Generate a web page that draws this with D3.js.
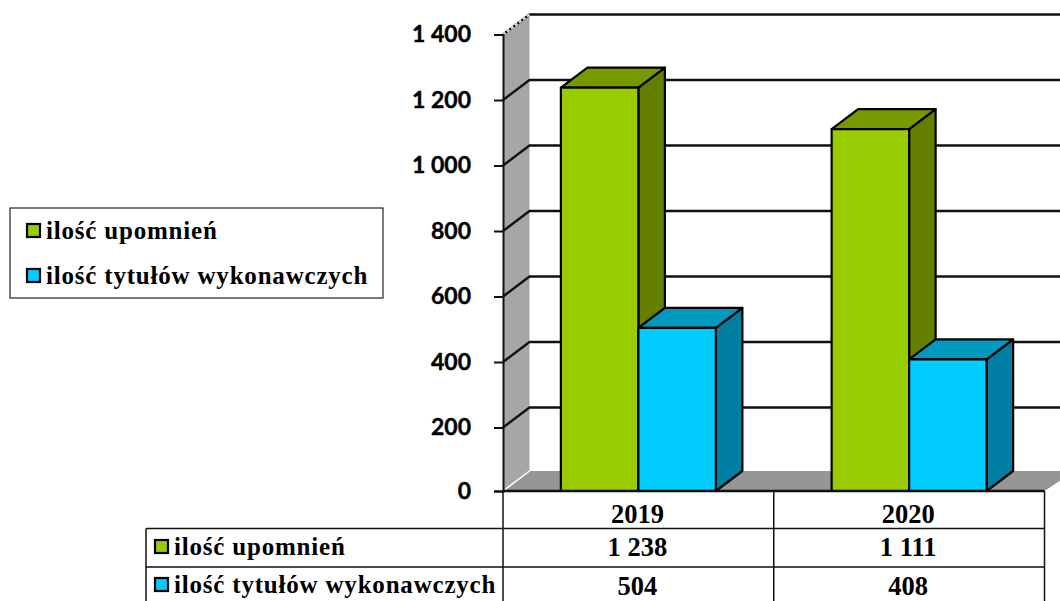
<!DOCTYPE html>
<html>
<head>
<meta charset="utf-8">
<script src="https://cdn.jsdelivr.net/npm/d3@7"></script>
<style>
  html, body { margin: 0; padding: 0; background: #fff; overflow: hidden; }
  svg { display: block; }
  .serif { font-family: "Liberation Serif", serif; font-weight: bold; fill: #000; }
</style>
</head>
<body>
<svg id="chart" width="1060" height="601"></svg>
<script>
const categories = ["2019", "2020"];
const seriesNames = ["ilość upomnień", "ilość tytułów wykonawczych"];
const upomnienia = [1238, 1111];
const tytuly = [504, 408];
const yTicks = [0, 200, 400, 600, 800, 1000, 1200, 1400];

const seriesValues = [upomnienia, tytuly];
const seriesColors = [
  { front: "#99cc00", top: "#769900", side: "#647f00" },
  { front: "#00ccff", top: "#0099c0", side: "#007fa2" }
];

const svg = d3.select("#chart");

// 3D offset of the chart box
const depthX = 26.5;
const depthY = -20;

const x0 = d3.scaleBand().domain(categories).range([503, 1044.5]);
const barWidth = 77.5;
const x1 = d3.scaleBand().domain([0, 1]).range([-barWidth, barWidth]);
// the source chart's floor sits a little above the regular tick spacing
const y = d3.scaleLinear().domain([0, 200, 1400]).range([491, 427.5, 34.5]);

const fmt = d3.formatLocale({ thousands: " ", grouping: [3], decimal: ",", currency: ["", ""] }).format(",d");

const poly = pts => pts.map(p => p.join(",")).join(" ");

// left wall and floor
svg.append("polygon")
  .attr("points", poly([[x0.range()[0], y(0)], [x0.range()[0] + depthX, y(0) + depthY], [x0.range()[0] + depthX, y(1400) + depthY], [x0.range()[0], y(1400)]]))
  .attr("fill", "#a6a6a6");
svg.append("polygon")
  .attr("points", poly([[x0.range()[0], y(0)], [x0.range()[0] + depthX, y(0) + depthY], [1075, y(0) + depthY], [x0.range()[1], y(0)]]))
  .attr("fill", "#969696");
svg.append("line")
  .attr("x1", x0.range()[0]).attr("x2", x0.range()[0] + depthX)
  .attr("y1", y(0)).attr("y2", y(0) + depthY)
  .attr("stroke", "#fff").attr("stroke-width", 1.5);

// gridlines
yTicks.filter(d => d > 0).forEach(d => {
  svg.append("polyline")
    .attr("points", poly([[x0.range()[0], y(d)], [x0.range()[0] + depthX, y(d) + depthY], [1060, y(d) + depthY]]))
    .attr("fill", "none")
    .attr("stroke", "#111")
    .attr("stroke-width", 2.3);
});
svg.append("line")
  .attr("x1", x0.range()[0]).attr("x2", x0.range()[0] + depthX)
  .attr("y1", y(1400)).attr("y2", y(1400) + depthY)
  .attr("stroke", "#ddd").attr("stroke-width", 2.3).attr("stroke-dasharray", "3 2");

// bars
categories.forEach((cat, i) => {
  const cx = x0(cat) + x0.bandwidth() / 2;
  seriesValues.forEach((vals, s) => {
    const left = cx + x1(s);
    const right = left + barWidth;
    const top = y(vals[i]);
    const bottom = y(0);
    const c = seriesColors[s];
    const g = svg.append("g")
      .attr("stroke", "#000")
      .attr("stroke-width", 2.2)
      .attr("stroke-linejoin", "round");
    g.append("polygon")
      .attr("points", poly([[right, top], [right + depthX, top + depthY], [right + depthX, bottom + depthY], [right, bottom]]))
      .attr("fill", c.side);
    g.append("polygon")
      .attr("points", poly([[left, top], [left + depthX, top + depthY], [right + depthX, top + depthY], [right, top]]))
      .attr("fill", c.top);
    g.append("rect")
      .attr("x", left).attr("y", top)
      .attr("width", barWidth).attr("height", bottom - top)
      .attr("fill", c.front);
  });
});

// value axis
const yAxis = d3.axisLeft(y).tickValues(yTicks).tickFormat(fmt).tickSize(9).tickPadding(23);
const axisG = svg.append("g")
  .attr("transform", `translate(${x0.range()[0]},0)`)
  .call(yAxis);
axisG.select(".domain").attr("stroke", "#111").attr("stroke-width", 2);
axisG.selectAll(".tick line").attr("stroke", "#111").attr("stroke-width", 2);
axisG.selectAll(".tick text")
  .attr("font-family", "Lato, sans-serif")
  .attr("font-weight", "bold")
  .attr("font-size", 23)
  .attr("fill", "#000")
  .attr("stroke", "#000")
  .attr("stroke-width", 0.4);

// data table under the chart
const tableLeft = 146;
const rowY = [491, 528.5, 567, 601];
const tableLines = svg.append("g").attr("stroke", "#111").attr("stroke-width", 1.5);
tableLines.append("line").attr("x1", x0.range()[0]).attr("x2", x0.range()[1]).attr("y1", rowY[0]).attr("y2", rowY[0]).attr("stroke-width", 2.5);
rowY.slice(1, 3).forEach(ry => {
  tableLines.append("line").attr("x1", tableLeft).attr("x2", x0.range()[1]).attr("y1", ry).attr("y2", ry);
});
tableLines.append("line").attr("x1", tableLeft).attr("x2", tableLeft).attr("y1", rowY[1]).attr("y2", rowY[3]);
[x0.range()[0], x0("2020"), x0.range()[1]].forEach(vx => {
  tableLines.append("line").attr("x1", vx).attr("x2", vx).attr("y1", rowY[0]).attr("y2", rowY[3]);
});

categories.forEach((cat, i) => {
  const cx = x0(cat) + x0.bandwidth() / 2 - 1;
  const cells = [cat, fmt(upomnienia[i]), fmt(tytuly[i])];
  cells.forEach((t, r) => {
    svg.append("text")
      .attr("class", "serif")
      .attr("x", cx)
      .attr("y", [523, 556, 595][r])
      .attr("text-anchor", "middle")
      .attr("font-size", 26.5)
      .text(t);
  });
});

function drawKey(x, baseline, s) {
  svg.append("rect")
    .attr("x", x).attr("y", baseline - 15)
    .attr("width", 13).attr("height", 13)
    .attr("fill", seriesColors[s].front)
    .attr("stroke", "#000").attr("stroke-width", 2.2);
  svg.append("text")
    .attr("class", "serif")
    .attr("x", x + 19)
    .attr("y", baseline)
    .attr("font-size", 25)
    .style("letter-spacing", "0.8px")
    .text(seriesNames[s]);
}

drawKey(155, 555, 0);
drawKey(155, 593, 1);

// legend box
svg.append("rect")
  .attr("x", 10).attr("y", 208)
  .attr("width", 373).attr("height", 90)
  .attr("fill", "#fff")
  .attr("stroke", "#222").attr("stroke-width", 1.2);
drawKey(27, 239, 0);
drawKey(27, 284, 1);
</script>
</body>
</html>
